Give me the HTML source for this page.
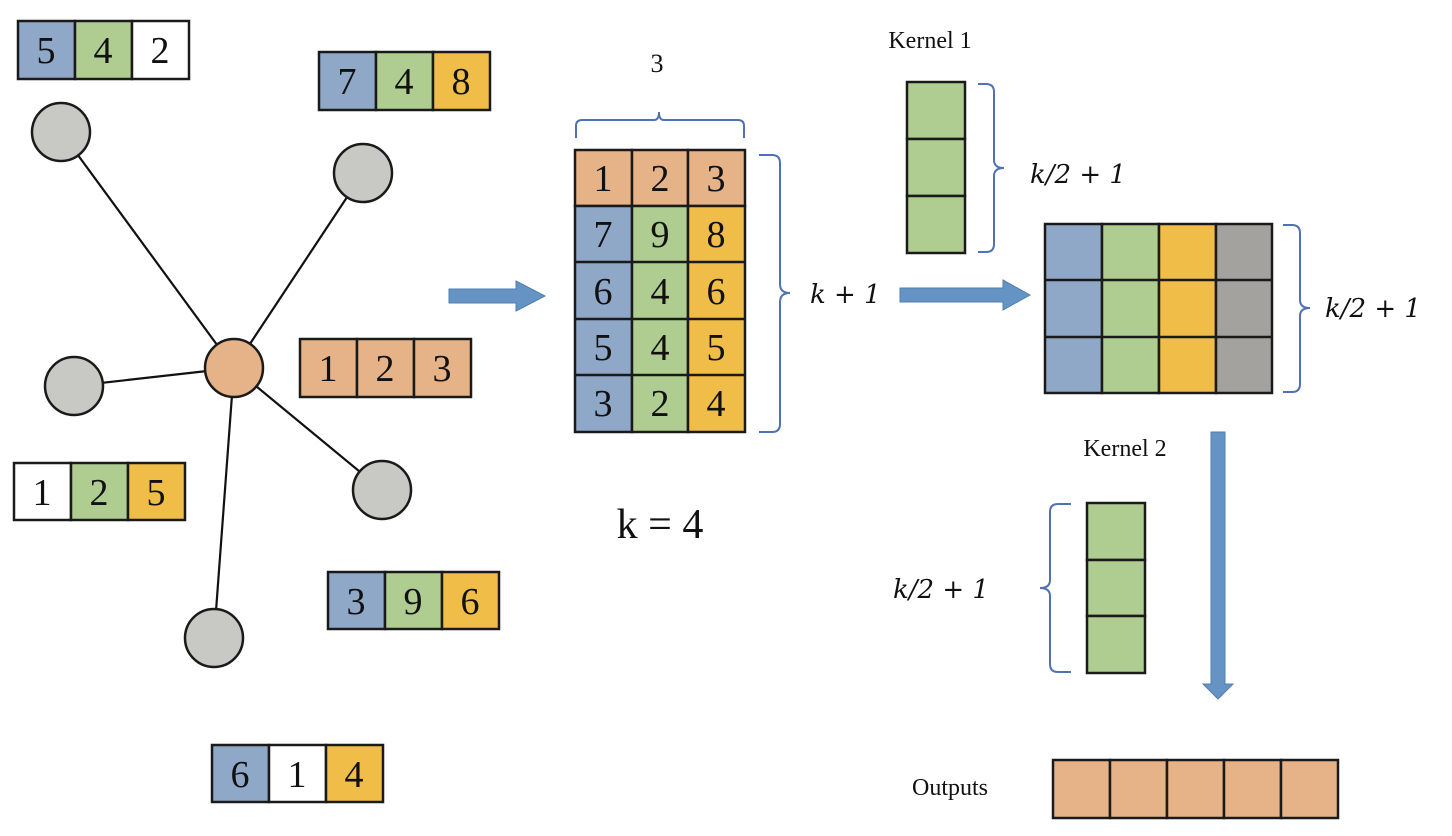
<!DOCTYPE html>
<html><head><meta charset="utf-8"><style>
html,body{margin:0;padding:0;background:#fff;}
svg{display:block;}
text{font-family:"Liberation Serif",serif;fill:#111;}
.m{font-family:"DejaVu Serif","Liberation Serif",serif;font-style:italic;}
</style></head><body>
<svg width="1452" height="836" viewBox="0 0 1452 836" xmlns="http://www.w3.org/2000/svg">
<defs>
<style>.c{stroke:#1a1a1a;stroke-width:2.5}.b{fill:none;stroke:#4f72b4;stroke-width:2}</style>
</defs>
<!-- edges -->
<g stroke="#111" stroke-width="2.2">
<line x1="61" y1="132" x2="234" y2="368"/>
<line x1="363" y1="173" x2="234" y2="368"/>
<line x1="74" y1="386" x2="234" y2="368"/>
<line x1="382" y1="490" x2="234" y2="368"/>
<line x1="214" y1="638" x2="234" y2="368"/>
</g>
<g class="c" fill="#c8c9c5">
<circle cx="61" cy="132" r="29"/>
<circle cx="363" cy="173" r="29"/>
<circle cx="74" cy="386" r="29"/>
<circle cx="382" cy="490" r="29"/>
<circle cx="214" cy="638" r="29"/>
</g>
<circle class="c" cx="234" cy="368" r="29" fill="#e6b287"/>

<!-- small boxes -->
<g class="c" font-size="38">
<rect x="18" y="21" width="57" height="58" fill="#8fa8c8"/><rect x="75" y="21" width="57" height="58" fill="#afcd90"/><rect x="132" y="21" width="57" height="58" fill="#fff"/>
<rect x="319" y="52" width="57" height="58" fill="#8fa8c8"/><rect x="376" y="52" width="57" height="58" fill="#afcd90"/><rect x="433" y="52" width="57" height="58" fill="#efbd48"/>
<rect x="300" y="339" width="57" height="58" fill="#e6b287"/><rect x="357" y="339" width="57" height="58" fill="#e6b287"/><rect x="414" y="339" width="57" height="58" fill="#e6b287"/>
<rect x="14" y="463" width="57" height="57" fill="#fff"/><rect x="71" y="463" width="57" height="57" fill="#afcd90"/><rect x="128" y="463" width="57" height="57" fill="#efbd48"/>
<rect x="328" y="572" width="57" height="57" fill="#8fa8c8"/><rect x="385" y="572" width="57" height="57" fill="#afcd90"/><rect x="442" y="572" width="57" height="57" fill="#efbd48"/>
<rect x="212" y="745" width="57" height="57" fill="#8fa8c8"/><rect x="269" y="745" width="57" height="57" fill="#fff"/><rect x="326" y="745" width="57" height="57" fill="#efbd48"/>
</g>
<g font-size="38" text-anchor="middle">
<text x="46" y="63">5</text><text x="103" y="63">4</text><text x="160" y="63">2</text>
<text x="347" y="94">7</text><text x="404" y="94">4</text><text x="461" y="94">8</text>
<text x="328" y="381">1</text><text x="385" y="381">2</text><text x="442" y="381">3</text>
<text x="42" y="505">1</text><text x="99" y="505">2</text><text x="156" y="505">5</text>
<text x="356" y="614">3</text><text x="413" y="614">9</text><text x="470" y="614">6</text>
<text x="240" y="787">6</text><text x="297" y="787">1</text><text x="354" y="787">4</text>
</g>

<!-- arrow 1 -->
<polygon points="449,289 516,289 516,281 545,296 516,311 516,303 449,303" fill="#6593c3" stroke="#4f7fb0" stroke-width="1"/>

<!-- main matrix -->
<g class="c">
<rect x="575" y="150" width="57" height="56" fill="#e6b287"/><rect x="632" y="150" width="56" height="56" fill="#e6b287"/><rect x="688" y="150" width="57" height="56" fill="#e6b287"/>
<rect x="575" y="206" width="57" height="226" fill="#8fa8c8"/><rect x="632" y="206" width="56" height="226" fill="#afcd90"/><rect x="688" y="206" width="57" height="226" fill="#efbd48"/>
<line x1="575" y1="262" x2="745" y2="262"/><line x1="575" y1="319" x2="745" y2="319"/><line x1="575" y1="375" x2="745" y2="375"/>
</g>
<g font-size="38" text-anchor="middle">
<text x="603" y="191">1</text><text x="660" y="191">2</text><text x="716" y="191">3</text>
<text x="603" y="247">7</text><text x="660" y="247">9</text><text x="716" y="247">8</text>
<text x="603" y="304">6</text><text x="660" y="304">4</text><text x="716" y="304">6</text>
<text x="603" y="360">5</text><text x="660" y="360">4</text><text x="716" y="360">5</text>
<text x="603" y="416">3</text><text x="660" y="416">2</text><text x="716" y="416">4</text>
</g>
<path class="b" d="M576,138 V126 Q576,120 582,120 H654 Q659,120 659,112 Q659,120 664,120 H738 Q744,120 744,126 V138"/>
<text x="657" y="72" font-size="26" text-anchor="middle">3</text>
<path class="b" d="M759,155 H772 Q780,155 780,163 V284 Q780,293 790,293 Q780,293 780,302 V424 Q780,432 772,432 H759"/>
<text class="m" x="810" y="303" font-size="26">k + 1</text>
<text x="660" y="538" font-size="42" text-anchor="middle">k = 4</text>

<!-- kernel 1 -->
<text x="930" y="48" font-size="24" text-anchor="middle">Kernel 1</text>
<g class="c" fill="#afcd90">
<rect x="907" y="82" width="58" height="57"/><rect x="907" y="139" width="58" height="57"/><rect x="907" y="196" width="58" height="57"/>
</g>
<path class="b" d="M978,84 H986 Q994,84 994,92 V160 Q994,168 1004,168 Q994,168 994,176 V244 Q994,252 986,252 H978"/>
<text class="m" x="1030" y="183" font-size="26">k/2 + 1</text>

<!-- arrow 2 -->
<polygon points="900,288 1003,288 1003,280 1030,295 1003,310 1003,302 900,302" fill="#6593c3" stroke="#4f7fb0" stroke-width="1"/>

<!-- matrix 2 -->
<g class="c">
<rect x="1045" y="224" width="57" height="169" fill="#8fa8c8"/>
<rect x="1102" y="224" width="57" height="169" fill="#afcd90"/>
<rect x="1159" y="224" width="57" height="169" fill="#efbd48"/>
<rect x="1216" y="224" width="56" height="169" fill="#a3a29e"/>
<line x1="1045" y1="280" x2="1272" y2="280"/><line x1="1045" y1="337" x2="1272" y2="337"/>
</g>
<path class="b" d="M1283,225 H1292 Q1300,225 1300,233 V300 Q1300,308 1310,308 Q1300,308 1300,316 V384 Q1300,392 1292,392 H1283"/>
<text class="m" x="1325" y="317" font-size="26">k/2 + 1</text>

<!-- down arrow -->
<polygon points="1211,432 1225,432 1225,684 1233,684 1218,699 1203,684 1211,684" fill="#6593c3" stroke="#4f7fb0" stroke-width="1"/>

<!-- kernel 2 -->
<text x="1125" y="456" font-size="24" text-anchor="middle">Kernel 2</text>
<g class="c" fill="#afcd90">
<rect x="1087" y="503" width="58" height="57"/><rect x="1087" y="560" width="58" height="56"/><rect x="1087" y="616" width="58" height="57"/>
</g>
<path class="b" d="M1071,504 H1058 Q1050,504 1050,512 V580 Q1050,588 1040,588 Q1050,588 1050,596 V664 Q1050,672 1058,672 H1071"/>
<text class="m" x="893" y="598" font-size="26">k/2 + 1</text>

<!-- outputs -->
<text x="950" y="795" font-size="24" text-anchor="middle">Outputs</text>
<g class="c" fill="#e6b287">
<rect x="1053" y="760" width="57" height="58"/><rect x="1110" y="760" width="57" height="58"/><rect x="1167" y="760" width="57" height="58"/><rect x="1224" y="760" width="57" height="58"/><rect x="1281" y="760" width="57" height="58"/>
</g>
</svg>
</body></html>
